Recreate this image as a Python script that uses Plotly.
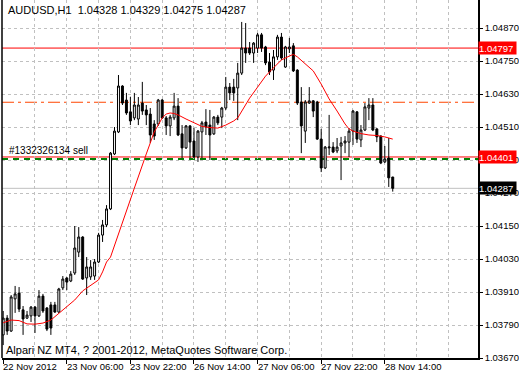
import plotly.graph_objects as go

# ---------------- data ----------------
bar_index = list(range(99))
open_ = [1.03754, 1.03815, 1.03768, 1.03885, 1.03906, 1.03845, 1.03815, 1.03823, 1.03855, 1.03823,
         1.03895, 1.03852, 1.03863, 1.03863, 1.03837, 1.03925, 1.03961, 1.03950, 1.03979, 1.04055,
         1.04110, 1.03961, 1.03965, 1.03968, 1.04019, 1.04117, 1.04154, 1.04212, 1.04412, 1.04492,
         1.04659, 1.04608, 1.04565, 1.04543, 1.04539, 1.04597, 1.04572, 1.04557, 1.04521, 1.04521,
         1.04608, 1.04543, 1.04514, 1.04543, 1.04586, 1.04485, 1.04434, 1.04514, 1.04459, 1.04401,
         1.04492, 1.04528, 1.04517, 1.04485, 1.04546, 1.04546, 1.04579, 1.04655, 1.04655, 1.04652,
         1.04706, 1.04797, 1.04797, 1.04779, 1.04797, 1.04845, 1.04801, 1.04746, 1.04717, 1.04765,
         1.04837, 1.04728, 1.04794, 1.04805, 1.04717, 1.04601, 1.04495, 1.04597, 1.04605, 1.04601,
         1.04466, 1.04361, 1.04434, 1.04437, 1.04423, 1.04441, 1.04452, 1.04455, 1.04495, 1.04565,
         1.04463, 1.04499, 1.04579, 1.04590, 1.04503, 1.04477, 1.04383, 1.04397, 1.04328]
high = [1.03841, 1.03826, 1.03899, 1.03932, 1.03928, 1.03859, 1.03841, 1.03859, 1.03859, 1.03917,
        1.03903, 1.03855, 1.03874, 1.03874, 1.03925, 1.03968, 1.03964, 1.03986, 1.04150, 1.04146,
        1.04113, 1.04037, 1.04026, 1.04030, 1.04125, 1.04172, 1.04226, 1.04419, 1.04510, 1.04699,
        1.04662, 1.04634, 1.04619, 1.04634, 1.04619, 1.04674, 1.04590, 1.04579, 1.04535, 1.04612,
        1.04612, 1.04550, 1.04554, 1.04634, 1.04615, 1.04517, 1.04517, 1.04517, 1.04506, 1.04499,
        1.04532, 1.04575, 1.04572, 1.04550, 1.04554, 1.04583, 1.04692, 1.04670, 1.04685, 1.04743,
        1.04892, 1.04888, 1.04819, 1.04819, 1.04852, 1.04852, 1.04805, 1.04779, 1.04790, 1.04845,
        1.04852, 1.04805, 1.04834, 1.04815, 1.04720, 1.04655, 1.04608, 1.04655, 1.04608, 1.04605,
        1.04503, 1.04441, 1.04554, 1.04455, 1.04470, 1.04474, 1.04477, 1.04506, 1.04572, 1.04568,
        1.04517, 1.04597, 1.04615, 1.04615, 1.04506, 1.04480, 1.04441, 1.04470, 1.04329]
low = [1.03717, 1.03754, 1.03765, 1.03834, 1.03837, 1.03754, 1.03812, 1.03801, 1.03761, 1.03819,
       1.03834, 1.03768, 1.03754, 1.03834, 1.03834, 1.03917, 1.03917, 1.03946, 1.03972, 1.04037,
       1.03954, 1.03899, 1.03954, 1.03954, 1.04015, 1.04092, 1.04146, 1.04208, 1.04408, 1.04488,
       1.04590, 1.04554, 1.04517, 1.04535, 1.04517, 1.04554, 1.04517, 1.04452, 1.04463, 1.04514,
       1.04540, 1.04481, 1.04477, 1.04535, 1.04477, 1.04397, 1.04430, 1.04397, 1.04397, 1.04383,
       1.04397, 1.04481, 1.04390, 1.04481, 1.04517, 1.04506, 1.04572, 1.04608, 1.04605, 1.04535,
       1.04699, 1.04743, 1.04772, 1.04743, 1.04779, 1.04783, 1.04735, 1.04699, 1.04681, 1.04754,
       1.04754, 1.04725, 1.04779, 1.04710, 1.04590, 1.04415, 1.04452, 1.04594, 1.04546, 1.04463,
       1.04346, 1.04357, 1.04408, 1.04415, 1.04415, 1.04317, 1.04415, 1.04401, 1.04445, 1.04452,
       1.04437, 1.04495, 1.04535, 1.04495, 1.04455, 1.04375, 1.04379, 1.04292, 1.04275]
close = [1.03815, 1.03768, 1.03892, 1.03903, 1.03848, 1.03812, 1.03826, 1.03855, 1.03823, 1.03895,
         1.03841, 1.03775, 1.03779, 1.03837, 1.03921, 1.03957, 1.03946, 1.03975, 1.04070, 1.04110,
         1.03957, 1.04001, 1.04001, 1.04019, 1.04117, 1.04154, 1.04212, 1.04415, 1.04495, 1.04659,
         1.04597, 1.04561, 1.04532, 1.04590, 1.04590, 1.04568, 1.04554, 1.04481, 1.04477, 1.04608,
         1.04543, 1.04514, 1.04546, 1.04586, 1.04481, 1.04434, 1.04514, 1.04455, 1.04401, 1.04495,
         1.04525, 1.04510, 1.04481, 1.04546, 1.04525, 1.04579, 1.04655, 1.04634, 1.04634, 1.04706,
         1.04797, 1.04779, 1.04779, 1.04815, 1.04845, 1.04797, 1.04743, 1.04710, 1.04765, 1.04837,
         1.04761, 1.04801, 1.04801, 1.04714, 1.04597, 1.04514, 1.04601, 1.04605, 1.04568, 1.04466,
         1.04361, 1.04437, 1.04437, 1.04419, 1.04437, 1.04452, 1.04459, 1.04495, 1.04568, 1.04466,
         1.04499, 1.04583, 1.04590, 1.04499, 1.04474, 1.04379, 1.04394, 1.04325, 1.04287]

ma_index = [0, 2, 4, 6, 8, 10, 12, 14, 16, 18, 20, 22, 24, 25, 26, 27, 30, 33, 36, 38, 39, 40, 41, 42,
            43, 44, 46, 48, 50, 52, 54, 56, 58, 59, 60, 62, 64, 66, 68, 70, 72, 73, 74, 76, 78, 80,
            82, 84, 86, 87, 88, 90, 92, 94, 96, 98]
ma_value = [1.03798, 1.03808, 1.03806, 1.03794, 1.03793, 1.03797, 1.03808, 1.03833, 1.03859, 1.03881,
            1.03914, 1.03934, 1.03954, 1.03983, 1.04019, 1.04037, 1.04165, 1.04288, 1.04412, 1.04492,
            1.04517, 1.04543, 1.04557, 1.04561, 1.04559, 1.04554, 1.04539, 1.04525, 1.04512, 1.04508,
            1.04506, 1.04517, 1.04532, 1.04543, 1.04568, 1.04615, 1.04655, 1.04695, 1.04725, 1.04754,
            1.04768, 1.04774, 1.04765, 1.04739, 1.04714, 1.04666, 1.04612, 1.04568, 1.04521, 1.04503,
            1.04495, 1.04486, 1.04481, 1.04479, 1.04474, 1.04466]

price_ticks = [1.03670, 1.03790, 1.03910, 1.04030, 1.04150, 1.04270, 1.04390, 1.04510, 1.04630,
               1.04750, 1.04870]
time_tick_index = [0, 16, 32, 48, 64, 80, 96]
time_tick_labels = ["22 Nov 2012", "23 Nov 06:00", "23 Nov 22:00", "26 Nov 14:00",
                    "27 Nov 06:00", "27 Nov 22:00", "28 Nov 14:00"]
grid_index = [8, 16, 24, 32, 40, 48, 56, 64, 72, 80, 88, 96, 104, 112]

title_text = "AUDUSD,H1  1.04328 1.04329 1.04275 1.04287"
footer_text = "Alpari NZ MT4, ? 2001-2012, MetaQuotes Software Corp."
order_text = "#1332326134 sell"
resist_level = 1.04797
dashdot_level = 1.04600
order_level = 1.04401
order_green_level = 1.04394
bid_level = 1.04287

FONT = "Liberation Sans, Arial, sans-serif"

# ---------------- figure ----------------
fig = go.Figure()
fig.add_trace(go.Candlestick(
    x=bar_index, open=open_, high=high, low=low, close=close,
    increasing=dict(line=dict(color="black", width=1), fillcolor="white"),
    decreasing=dict(line=dict(color="black", width=1), fillcolor="black"),
    whiskerwidth=0, hoverinfo="skip", showlegend=False,
))
fig.add_trace(go.Scatter(
    x=ma_index, y=ma_value, mode="lines",
    line=dict(color="#ff0000", width=1), hoverinfo="skip", showlegend=False,
))

shapes = [
    dict(type="line", xref="paper", x0=0, x1=1, yref="y", y0=resist_level, y1=resist_level,
         line=dict(color="#ff0000", width=1), layer="between"),
    dict(type="line", xref="paper", x0=0, x1=1, yref="y", y0=dashdot_level, y1=dashdot_level,
         line=dict(color="#ff4500", width=1, dash="12px,4px,3px,4px"), layer="between"),
    dict(type="line", xref="paper", x0=0, x1=1, yref="y", y0=order_green_level, y1=order_green_level,
         line=dict(color="#008000", width=2, dash="6px,5px"), layer="between"),
    dict(type="line", xref="paper", x0=0, x1=1, yref="y", y0=order_level, y1=order_level,
         line=dict(color="#ff0000", width=1), layer="between"),
    dict(type="line", xref="paper", x0=0, x1=1, yref="y", y0=bid_level, y1=bid_level,
         line=dict(color="#c0c0c0", width=1), layer="between"),
    dict(type="line", xref="paper", x0=0, x1=0, yref="paper", y0=0, y1=1,
         line=dict(color="black", width=1.5)),
]

annotations = [
    dict(text=title_text, xref="paper", yref="paper", x=0, y=1, xanchor="left", yanchor="top",
         xshift=4, yshift=-2, showarrow=False, font=dict(family=FONT, size=11, color="black")),
    dict(text=footer_text, xref="paper", yref="paper", x=0, y=0, xanchor="left", yanchor="bottom",
         xshift=2, yshift=0, showarrow=False, font=dict(family=FONT, size=11, color="black")),
    dict(text=order_text, xref="paper", yref="y", x=0, y=order_level, xanchor="left", yanchor="bottom",
         xshift=5, yshift=-1, showarrow=False, font=dict(family=FONT, size=10, color="black")),
]
for lvl, bg in [(resist_level, "#ff0000"), (order_level, "#ff0000"), (bid_level, "black")]:
    annotations.append(dict(text=f"{lvl:.5f}", xref="paper", yref="y", x=1, y=lvl,
                            xanchor="left", yanchor="middle", showarrow=False,
                            bgcolor=bg, width=37, height=12, borderpad=0, align="left",
                            font=dict(family=FONT, size=9.5, color="white")))
for idx, lab in zip(time_tick_index, time_tick_labels):
    annotations.append(dict(text=lab, xref="x", yref="paper", x=idx, y=0, xanchor="left",
                            yanchor="top", xshift=-2, yshift=-1, showarrow=False,
                            font=dict(family=FONT, size=9.5, color="black")))

fig.update_layout(
    width=519, height=378,
    margin=dict(l=2, r=38, t=0, b=20),
    paper_bgcolor="white", plot_bgcolor="white",
    showlegend=False, hovermode=False,
    shapes=shapes, annotations=annotations,
    xaxis=dict(
        range=[-0.3, 119.45], rangeslider=dict(visible=False),
        tickvals=time_tick_index, showticklabels=False,
        ticks="outside", ticklen=4, tickcolor="black",
        showgrid=False, zeroline=False,
        showline=True, linecolor="black", linewidth=1.5,
        minor=dict(tickvals=grid_index, showgrid=True, gridcolor="#c0c0c0",
                   griddash="3px,3px", gridwidth=1, ticks=""),
    ),
    yaxis=dict(
        side="right", range=[1.03670, 1.049718],
        tickvals=price_ticks, ticktext=[f"{v:.5f}" for v in price_ticks],
        ticks="outside", ticklen=3, tickcolor="black",
        tickfont=dict(family=FONT, size=9.5, color="black"),
        showgrid=True, gridcolor="#c0c0c0", griddash="3px,3px", gridwidth=1,
        zeroline=False, showline=True, linecolor="black", linewidth=1.5,
    ),
)

fig.write_html("out.html")
